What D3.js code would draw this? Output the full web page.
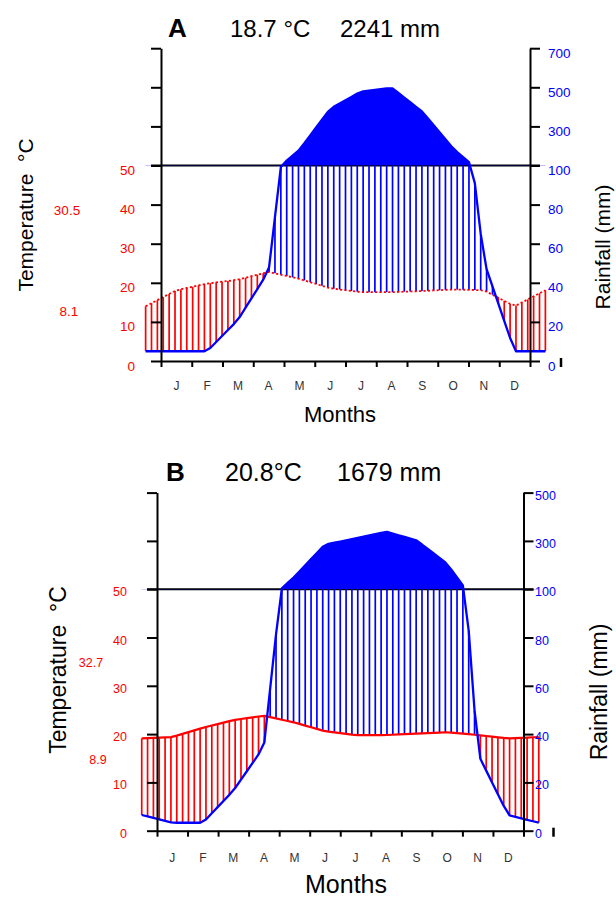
<!DOCTYPE html>
<html>
<head>
<meta charset="utf-8">
<script src="https://cdn.jsdelivr.net/npm/d3@7"></script>
<style>
  html, body { margin: 0; padding: 0; background: #fff; }
  svg { display: block; font-family: "Liberation Sans", Arial, sans-serif; }
</style>
</head>
<body>
<svg id="chart" width="616" height="897"></svg>
<script>
// Monthly climate normals for the two stations (Walter–Lieth diagrams)
const months = ["J", "F", "M", "A", "M", "J", "J", "A", "S", "O", "N", "D"];

const tempA = [18.1, 19.8, 20.8, 22.8, 21.0, 18.6, 17.6, 17.6, 17.9, 18.3, 18.1, 14.0];
const rainA = [5, 5, 21, 46, 180, 390, 478, 498, 375, 187, 51, 5];

const tempB = [19.4, 21.3, 22.9, 23.8, 22.4, 20.6, 19.8, 19.8, 20.1, 20.4, 19.8, 19.1];
const rainB = [3.3, 3.3, 16.6, 34.8, 152, 285, 310, 338, 302, 205, 32, 6.5];

// Axis ticks, in diagram units (10 units = 10 °C = 20 mm below 100 mm, 200 mm above)
const ticksA = [0, 10, 20, 30, 40, 50, 60, 70, 80];
const ticksB = [0, 10, 20, 30, 40, 50, 60, 70];
const tempTickLabels = ["0", "10", "20", "30", "40", "50", "", "", ""];
const rainTickLabels = ["0", "20", "40", "60", "80", "100", "300", "500", "700"];

// Station summaries
const titleA = { letter: "A", meanT: "18.7 °C", totalP: "2241 mm", absMax: "30.5", absMin: "8.1" };
const titleB = { letter: "B", meanT: "20.8°C", totalP: "1679 mm", absMax: "32.7", absMin: "8.9" };

const BLUE = "#0000ff", RED = "#ff0000";
const svg = d3.select("#chart");

// Rainfall in mm -> diagram units (scale reduced tenfold above 100 mm)
function rainToUnits(mm) { return mm <= 100 ? mm / 2 : 50 + (mm - 100) / 20; }

function drawPanel(cfg, id) {
  const g = svg.append("g");
  const x = d3.scaleLinear().domain([0, 12]).range([cfg.x0, cfg.x1]);
  const y = d3.scaleLinear().domain([0, cfg.top]).range([cfg.yZero, cfg.yZero - cfg.top * cfg.k]);

  // Series wrapped round the year: Dec before January, Jan after December
  const pos = d3.range(14).map(i => i - 0.5);
  const tW = [cfg.temp[11], ...cfg.temp, cfg.temp[0]];
  const pW = [cfg.rain[11], ...cfg.rain, cfg.rain[0]];

  // Dense grid for the hatching and the curves
  const nStep = 68;
  const grid = d3.range(nStep + 1).map(k => {
    const m = -0.5 + k * 13 / nStep;
    const i = Math.max(0, Math.min(12, Math.floor(m + 0.5)));
    const f = m - pos[i];
    const t = tW[i] + f * (tW[i + 1] - tW[i]);
    const p = pW[i] + f * (pW[i + 1] - pW[i]);
    return { m, t, pu: rainToUnits(p) };
  });

  // 100 mm reference line
  g.append("line")
    .attr("x1", cfg.x0 - 10).attr("x2", cfg.x1 + 10)
    .attr("y1", y(50)).attr("y2", y(50))
    .attr("stroke", "#000").attr("stroke-width", 2);

  // Humid (blue) and arid (red) hatching
  g.append("g").selectAll("line")
    .data(grid)
    .join("line")
    .attr("x1", d => x(d.m)).attr("x2", d => x(d.m))
    .attr("y1", d => d.pu > d.t ? y(d.t) : y(d.pu))
    .attr("y2", d => d.pu > d.t ? y(Math.min(d.pu, 50)) : y(d.t))
    .attr("stroke", d => d.pu > d.t ? BLUE : RED)
    .attr("stroke-width", 1.7);

  // Solid fill for rainfall above 100 mm
  svg.append("clipPath").attr("id", "above" + id)
    .append("rect").attr("x", 0).attr("y", 0)
    .attr("width", 616).attr("height", y(50));
  g.append("path")
    .datum(grid)
    .attr("clip-path", `url(#above${id})`)
    .attr("fill", BLUE)
    .attr("d", d3.area().x(d => x(d.m)).y0(y(50)).y1(d => y(d.pu)));

  // Temperature curve
  g.append("path")
    .datum(grid)
    .attr("fill", "none").attr("stroke", RED)
    .attr("stroke-width", cfg.tempDash ? 1.8 : 2.2)
    .attr("stroke-dasharray", cfg.tempDash || null)
    .attr("d", d3.line().x(d => x(d.m)).y(d => y(d.t)));

  // Rainfall curve
  g.append("path")
    .datum(grid)
    .attr("fill", "none").attr("stroke", BLUE)
    .attr("stroke-width", 2.3).attr("stroke-linejoin", "round")
    .attr("d", d3.line().x(d => x(d.m)).y(d => y(d.pu)));

  // Axes
  const styleAxis = sel => {
    sel.selectAll("path.domain").attr("stroke", "#000").attr("stroke-width", 2);
    sel.selectAll(".tick line").attr("stroke", "#000").attr("stroke-width", 2);
  };

  const leftAx = g.append("g").attr("transform", `translate(${cfg.x0},0)`)
    .call(d3.axisLeft(y).tickValues(cfg.ticks).tickSize(10).tickSizeOuter(0)
      .tickPadding(cfg.x0 - 10 - cfg.leftLabelRight)
      .tickFormat((d, i) => tempTickLabels[i]));
  styleAxis(leftAx);
  leftAx.selectAll("text").attr("fill", RED).attr("dy", cfg.labDy)
    .style("font-size", cfg.labFont + "px").style("font-family", "Liberation Sans, Arial, sans-serif");

  const rightAx = g.append("g").attr("transform", `translate(${cfg.x1},0)`)
    .call(d3.axisRight(y).tickValues(cfg.ticks).tickSize(10).tickSizeOuter(0)
      .tickPadding(cfg.rightLabelLeft - cfg.x1 - 10)
      .tickFormat((d, i) => rainTickLabels[i]));
  styleAxis(rightAx);
  rightAx.selectAll("text").attr("fill", BLUE).attr("dy", cfg.labDy)
    .style("font-size", cfg.labFont + "px").style("font-family", "Liberation Sans, Arial, sans-serif");

  const bottomAx = g.append("g").attr("transform", `translate(0,${cfg.yZero})`)
    .call(d3.axisBottom(x).tickValues(d3.range(13)).tickSize(6).tickSizeOuter(0).tickFormat(""));
  styleAxis(bottomAx);

  // Month initials centred between ticks
  g.append("g").selectAll("text")
    .data(months)
    .join("text")
    .attr("x", (d, i) => x(i + 0.5))
    .attr("y", cfg.monthBaseline)
    .attr("text-anchor", "middle")
    .attr("fill", "#333")
    .style("font-size", "12px")
    .text(d => d);

  // Small mark next to the zero of the rainfall axis
  g.append("line")
    .attr("x1", cfg.markX).attr("x2", cfg.markX)
    .attr("y1", cfg.yZero - 3).attr("y2", cfg.yZero + 6)
    .attr("stroke", "#000").attr("stroke-width", 2.5);

  // Titles and labels
  const t = cfg.title;
  g.append("text").attr("x", cfg.letterX).attr("y", cfg.titleBase)
    .style("font-size", "26px").style("font-weight", "bold").text(t.letter);
  g.append("text").attr("x", cfg.meanX).attr("y", cfg.titleBase)
    .style("font-size", cfg.titleFont + "px").text(t.meanT);
  g.append("text").attr("x", cfg.totalX).attr("y", cfg.titleBase)
    .style("font-size", cfg.titleFont + "px").text(t.totalP);

  g.append("text").attr("x", cfg.absX).attr("y", cfg.absMaxBase)
    .attr("text-anchor", "middle").attr("fill", RED)
    .style("font-size", cfg.labFont + "px").text(t.absMax);
  g.append("text").attr("x", cfg.absX + cfg.absMinShift).attr("y", cfg.absMinBase)
    .attr("text-anchor", "middle").attr("fill", RED)
    .style("font-size", cfg.labFont + "px").text(t.absMin);

  g.append("text")
    .attr("transform", `translate(${cfg.tLabX},${cfg.tLabY}) rotate(-90)`)
    .attr("text-anchor", "middle")
    .style("white-space", "pre")
    .style("font-size", cfg.axisFont + "px").text("Temperature  °C");
  g.append("text")
    .attr("transform", `translate(${cfg.pLabX},${cfg.pLabY}) rotate(-90)`)
    .attr("text-anchor", "middle")
    .style("font-size", cfg.axisFont + "px").text("Rainfall (mm)");
  g.append("text")
    .attr("x", cfg.monthsX).attr("y", cfg.monthsBase)
    .attr("text-anchor", "middle")
    .style("font-size", cfg.monthsFont + "px").text("Months");
}

drawPanel({
  temp: tempA, rain: rainA, title: titleA, ticks: ticksA,
  x0: 161, x1: 530, yZero: 361, k: 3.91, top: 80,
  tempDash: "2.2,2.2",
  leftLabelRight: 135, rightLabelLeft: 548, labDy: 9, labFont: 13.5,
  monthBaseline: 390, markX: 561,
  letterX: 168, meanX: 230, totalX: 340, titleBase: 37, titleFont: 24,
  absX: 67, absMinShift: 2, absMaxBase: 214.5, absMinBase: 316,
  axisFont: 21, tLabX: 33, tLabY: 215, pLabX: 610, pLabY: 247,
  monthsX: 340, monthsBase: 422, monthsFont: 22
}, "A");

drawPanel({
  temp: tempB, rain: rainB, title: titleB, ticks: ticksB,
  x0: 157, x1: 523.5, yZero: 830.7, k: 4.83, top: 70,
  tempDash: null,
  leftLabelRight: 127, rightLabelLeft: 535, labDy: 6.5, labFont: 12.5,
  monthBaseline: 862, markX: 553.5,
  letterX: 166, meanX: 225, totalX: 337, titleBase: 481, titleFont: 25,
  absX: 91, absMinShift: 7, absMaxBase: 667, absMinBase: 763.5,
  axisFont: 23, tLabX: 66, tLabY: 670, pLabX: 607, pLabY: 692,
  monthsX: 346, monthsBase: 893, monthsFont: 25
}, "B");
</script>
</body>
</html>
